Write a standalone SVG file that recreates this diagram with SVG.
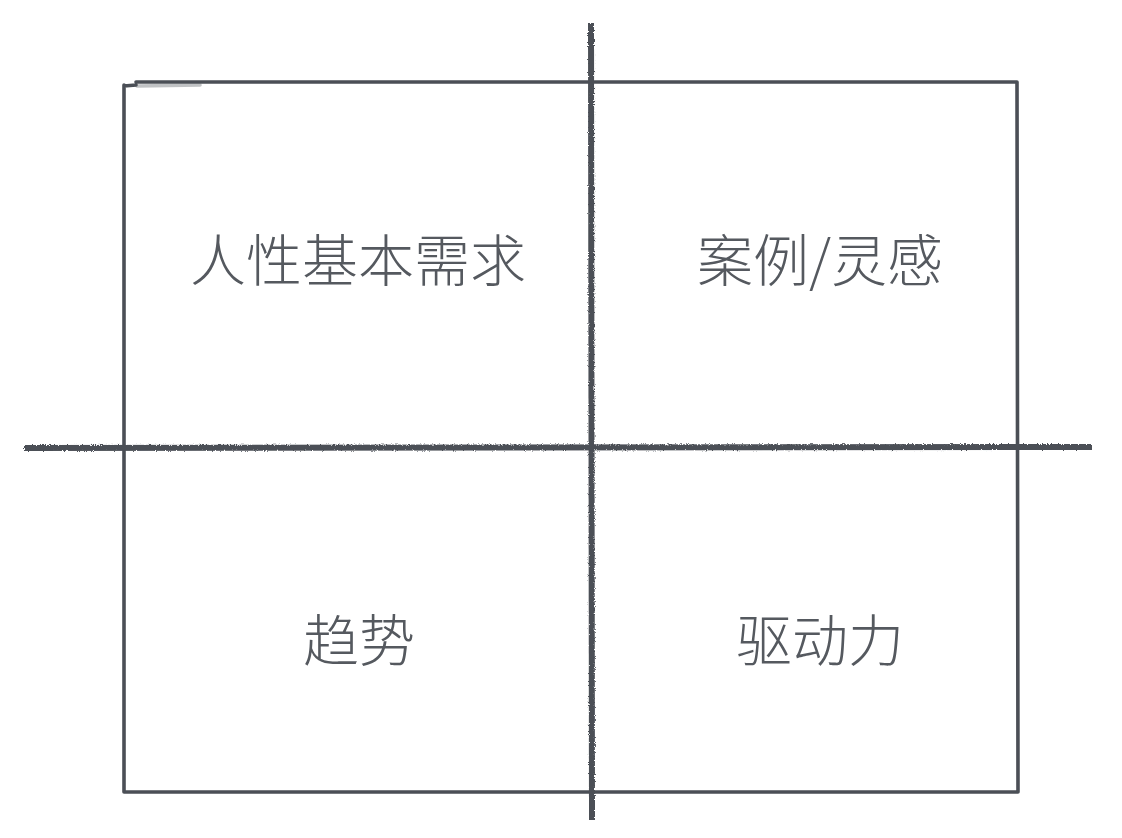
<svg xmlns="http://www.w3.org/2000/svg" width="1122" height="838" viewBox="0 0 1122 838">
  <style>
    .frame { fill: none; stroke: #4b4f56; stroke-width: 3.6; stroke-linecap: round; stroke-linejoin: round; }
    .axis { fill: none; stroke: #4b4f56; stroke-width: 6; stroke-linecap: butt; }
    .label { font-family: "Noto Sans CJK SC", "Noto Sans", "Liberation Sans", sans-serif; font-weight: 300; font-size: 56px; fill: #55595f; text-anchor: middle; }
  </style>
  <defs>
    <filter id="rough" x="-5%" y="-5%" width="110%" height="110%">
      <feTurbulence type="fractalNoise" baseFrequency="0.9" numOctaves="2" seed="3" result="n"/>
      <feDisplacementMap in="SourceGraphic" in2="n" scale="3" xChannelSelector="R" yChannelSelector="G"/>
    </filter>
  </defs>
  <rect width="1122" height="838" fill="#ffffff"/>
  <g id="frame">
    <path class="frame" d="M136,82 L1017,82 M1017,82 L1018,792 M1018,792 L124,792 M124,792 L124,85 M124,86 L136,85"/>
    <path class="frame" stroke-width="1" opacity="0.35" d="M137,86 L200,85"/>
  </g>
  <g id="connectors" filter="url(#rough)">
    <path class="axis" d="M591,23 L592,820"/>
    <path class="axis" d="M24,448 L1092,447"/>
  </g>
  <g id="node-human-needs">
    <text class="label" x="358" y="281">人性基本需求</text>
  </g>
  <g id="node-cases">
    <text class="label" x="820" y="281">案例/灵感</text>
  </g>
  <g id="node-trend">
    <text class="label" x="359" y="661">趋势</text>
  </g>
  <g id="node-drive">
    <text class="label" x="820" y="661">驱动力</text>
  </g>
</svg>
